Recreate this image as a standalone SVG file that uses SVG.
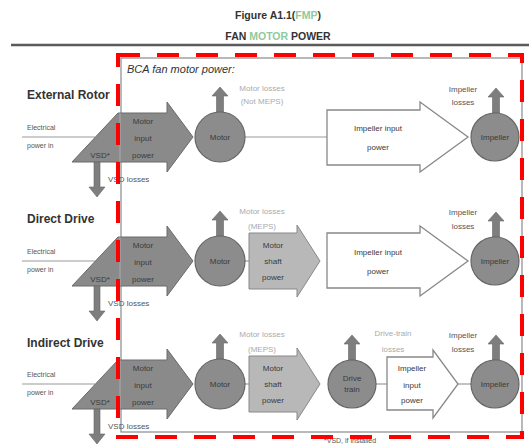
<svg xmlns="http://www.w3.org/2000/svg" width="529" height="444" viewBox="0 0 529 444">
<style>
text{font-family:"Liberation Sans",Arial,sans-serif}
.title{font-size:10.5px;font-weight:bold;fill:#333;text-anchor:middle}
.grn{fill:#8fc9a0}
.row{font-size:12px;font-weight:bold;fill:#333}
.small{font-size:7px;fill:#555}
.lbl{font-size:8px;fill:#3a3a3a;text-anchor:middle}
.loss{font-size:8px;fill:#aaa;text-anchor:middle}
.iloss{font-size:8px;fill:#555;text-anchor:middle}
.dark{fill:#8a8a8a;stroke:#6a6a6a;stroke-width:1}
.light{fill:#b8b8b8;stroke:#888;stroke-width:1}
.white{fill:#fff;stroke:#888;stroke-width:1.3}
.circ{fill:#8c8c8c;stroke:#666;stroke-width:1.2}
.up{fill:#7e7e7e;stroke:#666;stroke-width:0.6}
.wire{stroke:#999;stroke-width:1.2;fill:none}
</style>
<defs>
<path id="upArrow" d="M-3.5,0 V-16 H-8 L0,-25 L8,-16 H3.5 V0 Z"/>
<path id="downArrow" d="M-3,0 V25 H-8 L0,35 L8,25 H3 V0 Z"/>
</defs>
<rect width="529" height="444" fill="#fff"/>
<g id="title">
<text class="title" x="278" y="19">Figure A1.1(<tspan class="grn">FMP</tspan>)</text>
<text class="title" x="278" y="40">FAN <tspan class="grn">MOTOR</tspan> POWER</text>
<line x1="11" y1="45" x2="529" y2="45" stroke="#5a5a5a" stroke-width="2.5"/>
</g>
<g id="bca-box">
<rect x="121" y="58" width="401" height="374" fill="none" stroke="#8a8a8a" stroke-width="1.2"/>
<text x="127" y="73" font-size="11" font-style="italic" fill="#333">BCA fan motor power:</text>
</g>
<g id="row-labels">
<text class="row" x="27" y="99">External Rotor</text>
<text class="row" x="27" y="223">Direct Drive</text>
<text class="row" x="27" y="347">Indirect Drive</text>
<text class="small" x="27" y="130">Electrical</text>
<text class="small" x="27" y="148">power in</text>
<text class="small" x="27" y="254">Electrical</text>
<text class="small" x="27" y="272">power in</text>
<text class="small" x="27" y="377">Electrical</text>
<text class="small" x="27" y="395">power in</text>
</g>
<g id="connectors">
<line class="wire" x1="22" y1="137" x2="95" y2="137"/>
<line class="wire" x1="22" y1="261" x2="95" y2="261"/>
<line class="wire" x1="22" y1="384" x2="95" y2="384"/>
<line class="wire" x1="245" y1="137" x2="327" y2="137"/>
<line class="wire" x1="245" y1="261" x2="249" y2="261"/>
<line class="wire" x1="245" y1="384" x2="249" y2="384"/>
<line class="wire" x1="376" y1="384" x2="387" y2="384"/>
<line class="wire" x1="458" y1="384" x2="471" y2="384"/>
</g>
<!-- Row 1 -->
<g id="vsd1">
<polygon class="dark" points="72,162 118,113 167,113 167,102 193,137 167,172 167,162"/>
<line x1="120" y1="113" x2="120" y2="162" stroke="#aaa" stroke-width="1"/>
<text class="lbl" x="100" y="158">VSD*</text>
<text class="lbl" x="143" y="124">Motor</text>
<text class="lbl" x="143" y="141">input</text>
<text class="lbl" x="143" y="158">power</text>
<use href="#downArrow" x="97" y="162" class="up"/>
<text x="108" y="182" font-size="8" fill="#555">VSD losses</text>
</g>
<g id="motor1">
<use href="#upArrow" x="220" y="112" class="up"/>
<circle class="circ" cx="220" cy="137" r="25"/>
<text class="lbl" x="220" y="140">Motor</text>
<text class="loss" x="262" y="91">Motor losses</text>
<text class="loss" x="262" y="104">(Not MEPS)</text>
</g>
<g id="impin1">
<polygon class="white" points="327,110 420,110 420,102 468,137 420,172 420,165 327,165"/>
<text class="lbl" x="378" y="131" fill="#555">Impeller input</text>
<text class="lbl" x="378" y="150" fill="#555">power</text>
</g>
<g id="imp1">
<use href="#upArrow" x="496" y="113" class="up"/>
<circle class="circ" cx="495" cy="137" r="24"/>
<text class="lbl" x="495" y="140" font-size="7.5">Impeller</text>
<text class="iloss" x="463" y="92">Impeller</text>
<text class="iloss" x="463" y="105">losses</text>
</g>
<!-- Row 2 -->
<g id="vsd2">
<polygon class="dark" points="72,286 118,237 167,237 167,226 193,261 167,296 167,286"/>
<line x1="120" y1="237" x2="120" y2="286" stroke="#aaa" stroke-width="1"/>
<text class="lbl" x="100" y="282">VSD*</text>
<text class="lbl" x="143" y="248">Motor</text>
<text class="lbl" x="143" y="265">input</text>
<text class="lbl" x="143" y="282">power</text>
<use href="#downArrow" x="97" y="286" class="up"/>
<text x="108" y="306" font-size="8" fill="#555">VSD losses</text>
</g>
<g id="motor2">
<use href="#upArrow" x="220" y="236" class="up"/>
<circle class="circ" cx="220" cy="261" r="25"/>
<text class="lbl" x="220" y="264">Motor</text>
<text class="loss" x="262" y="214">Motor losses</text>
<text class="loss" x="262" y="229">(MEPS)</text>
</g>
<g id="shaft2">
<polygon class="light" points="249,233 297,233 297,225 320,261 297,297 297,289 249,289"/>
<text class="lbl" x="273" y="248">Motor</text>
<text class="lbl" x="273" y="264">shaft</text>
<text class="lbl" x="273" y="280">power</text>
</g>
<g id="impin2">
<polygon class="white" points="327,233 420,233 420,226 468,261 420,296 420,288 327,288"/>
<text class="lbl" x="378" y="255" fill="#555">Impeller input</text>
<text class="lbl" x="378" y="274" fill="#555">power</text>
</g>
<g id="imp2">
<use href="#upArrow" x="496" y="237" class="up"/>
<circle class="circ" cx="495" cy="261" r="24"/>
<text class="lbl" x="495" y="264" font-size="7.5">Impeller</text>
<text class="iloss" x="463" y="215">Impeller</text>
<text class="iloss" x="463" y="229">losses</text>
</g>
<!-- Row 3 -->
<g id="vsd3">
<polygon class="dark" points="72,409 118,360 167,360 167,349 193,384 167,419 167,409"/>
<line x1="120" y1="360" x2="120" y2="409" stroke="#aaa" stroke-width="1"/>
<text class="lbl" x="100" y="405">VSD*</text>
<text class="lbl" x="143" y="371">Motor</text>
<text class="lbl" x="143" y="388">input</text>
<text class="lbl" x="143" y="405">power</text>
<use href="#downArrow" x="97" y="409" class="up"/>
<text x="108" y="429" font-size="8" fill="#555">VSD losses</text>
</g>
<g id="motor3">
<use href="#upArrow" x="220" y="359" class="up"/>
<circle class="circ" cx="220" cy="384" r="25"/>
<text class="lbl" x="220" y="387">Motor</text>
<text class="loss" x="262" y="337">Motor losses</text>
<text class="loss" x="262" y="352">(MEPS)</text>
</g>
<g id="shaft3">
<polygon class="light" points="249,356 297,356 297,348 320,384 297,420 297,412 249,412"/>
<text class="lbl" x="273" y="371">Motor</text>
<text class="lbl" x="273" y="387">shaft</text>
<text class="lbl" x="273" y="403">power</text>
</g>
<g id="drivetrain3">
<use href="#upArrow" x="352" y="360" class="up"/>
<circle class="circ" cx="352" cy="384" r="24"/>
<text class="lbl" x="352" y="381" font-size="7.5">Drive</text>
<text class="lbl" x="352" y="392" font-size="7.5">train</text>
<text class="loss" x="393" y="336">Drive-train</text>
<text class="loss" x="393" y="352">losses</text>
</g>
<g id="impin3">
<polygon class="white" points="387,357 433,357 433,350 458,384 433,418 433,410 387,410"/>
<text class="lbl" x="412" y="371" fill="#555">Impeller</text>
<text class="lbl" x="412" y="388" fill="#555">input</text>
<text class="lbl" x="412" y="403" fill="#555">power</text>
</g>
<g id="imp3">
<use href="#upArrow" x="496" y="360" class="up"/>
<circle class="circ" cx="495" cy="384" r="24"/>
<text class="lbl" x="495" y="387" font-size="7.5">Impeller</text>
<text class="iloss" x="463" y="338">Impeller</text>
<text class="iloss" x="463" y="352">losses</text>
</g>
<text x="324" y="443" font-size="7" fill="#555">*VSD, if installed</text>
<rect id="highlight" x="118" y="55" width="404" height="382" fill="none" stroke="#f00" stroke-width="4" stroke-dasharray="22 17"/>
</svg>
